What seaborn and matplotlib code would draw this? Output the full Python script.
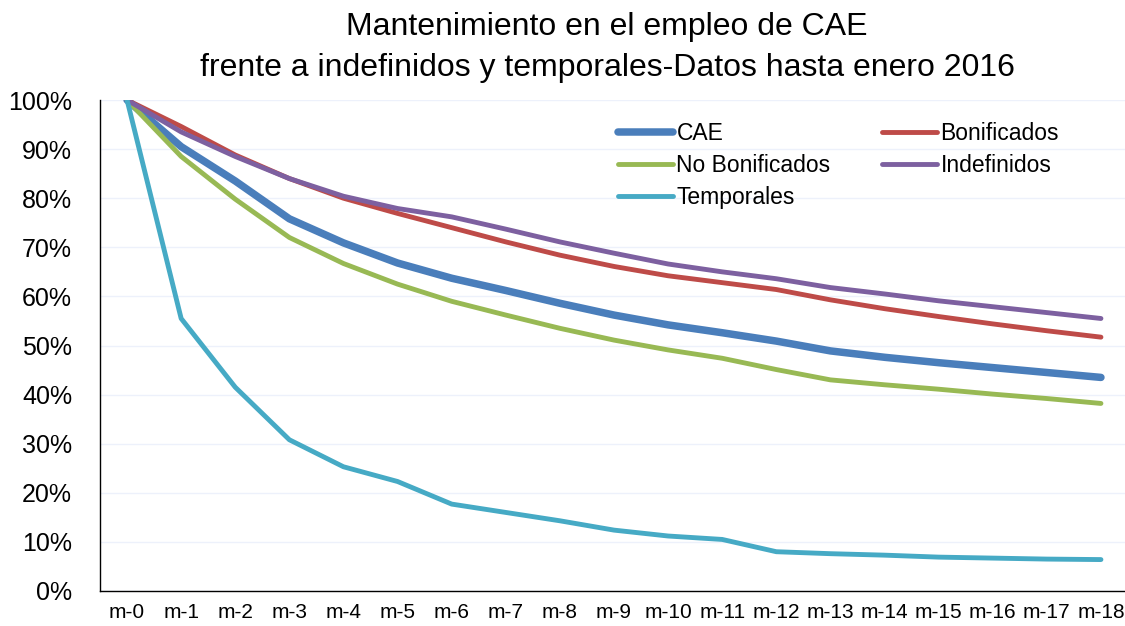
import pandas as pd
import matplotlib.pyplot as plt
import matplotlib.ticker as mticker
import seaborn as sns

# Datos (% que mantiene el empleo)
meses = ["m-0", "m-1", "m-2", "m-3", "m-4", "m-5", "m-6", "m-7", "m-8", "m-9",
         "m-10", "m-11", "m-12", "m-13", "m-14", "m-15", "m-16", "m-17", "m-18"]
cae = [100, 90.5, 83.5, 75.8, 70.9, 66.8, 63.7, 61.2, 58.6, 56.2,
       54.2, 52.6, 50.9, 48.9, 47.6, 46.5, 45.5, 44.5, 43.5]
bonificados = [100, 94.6, 88.8, 84.0, 80.0, 76.9, 74.0, 71.1, 68.4, 66.1,
               64.2, 62.8, 61.4, 59.3, 57.5, 55.9, 54.4, 53.0, 51.7]
no_bonificados = [100, 88.5, 79.8, 72.0, 66.7, 62.5, 59.0, 56.2, 53.5, 51.1,
                  49.1, 47.4, 45.1, 43.0, 42.0, 41.1, 40.1, 39.2, 38.2]
indefinidos = [100, 93.5, 88.5, 84.0, 80.4, 77.9, 76.2, 73.7, 71.1, 68.8,
               66.6, 65.0, 63.6, 61.8, 60.5, 59.1, 57.9, 56.7, 55.5]
temporales = [100, 55.5, 41.5, 30.8, 25.3, 22.3, 17.7, 16.0, 14.3, 12.4,
              11.2, 10.5, 8.0, 7.6, 7.3, 6.9, 6.7, 6.5, 6.4]

series = [
    ("CAE", cae, "#4a7ebb", 5.4),
    ("Bonificados", bonificados, "#be4b48", 3.5),
    ("No Bonificados", no_bonificados, "#98b954", 3.5),
    ("Indefinidos", indefinidos, "#7d60a0", 3.5),
    ("Temporales", temporales, "#46aac5", 3.5),
]

sns.set_style("white")
plt.rcParams["font.family"] = ["Liberation Sans", "DejaVu Sans"]
plt.rcParams["text.color"] = "black"
plt.rcParams["xtick.labelcolor"] = "black"
plt.rcParams["ytick.labelcolor"] = "black"

fig = plt.figure(figsize=(11.25, 6.26), dpi=100)
ax = fig.add_axes([100 / 1125, 1 - 591 / 626, 1028 / 1125, 491 / 626])

for name, vals, color, lw in series:
    df = pd.DataFrame({"mes": meses, "valor": vals})
    sns.lineplot(data=df, x="mes", y="valor", color=color, linewidth=lw,
                 solid_capstyle="round", solid_joinstyle="round", ax=ax,
                 label=name, sort=False)

ax.set_xlim(-0.5, 18.5)
ax.set_ylim(0, 100)
ax.set_xlabel("")
ax.set_ylabel("")

# ejes y rejilla
ax.yaxis.set_major_locator(mticker.MultipleLocator(10))
ax.yaxis.set_major_formatter(mticker.FuncFormatter(lambda v, p: f"{int(v)}%"))
ax.grid(axis="y", color="#edf1fb", linewidth=1)
ax.set_axisbelow(True)
for s in ["top", "right"]:
    ax.spines[s].set_visible(False)
for s in ["left", "bottom"]:
    ax.spines[s].set_color("black")
    ax.spines[s].set_linewidth(1)

ax.set_xticks(range(len(meses)))
ax.set_xticklabels(meses)
ax.set_xticks([i - 0.5 for i in range(len(meses) + 1)], minor=True)
ax.tick_params(axis="x", which="major", length=0, pad=9, labelsize=15, labelcolor="black")
ax.tick_params(axis="x", which="minor", length=6, direction="out", color="#555555", width=1)
ax.tick_params(axis="y", length=6, direction="out", color="#808080", width=1.2,
               pad=14, labelsize=18, labelcolor="black")

# leyenda en dos columnas
hs, ls = ax.get_legend_handles_labels()
orden = ["CAE", "No Bonificados", "Temporales", "Bonificados", "Indefinidos"]
hs = [hs[ls.index(o)] for o in orden]
leg = ax.legend(hs, orden, ncol=2, frameon=False, fontsize=16.5,
                loc="upper left", bbox_to_anchor=(618 / 1125, 1 - 122 / 626),
                bbox_transform=fig.transFigure, borderpad=0, borderaxespad=0,
                handlelength=2.4, handletextpad=0.15, labelspacing=0.4,
                columnspacing=2.25, labelcolor="black")

fig.text(607 / 1125, 1 - 76 / 626,
         "Mantenimiento en el empleo de CAE\nfrente a indefinidos y temporales-Datos hasta enero 2016",
         ha="center", va="baseline", fontsize=23, linespacing=1.5, color="black")

plt.savefig("out.png", dpi=100)
